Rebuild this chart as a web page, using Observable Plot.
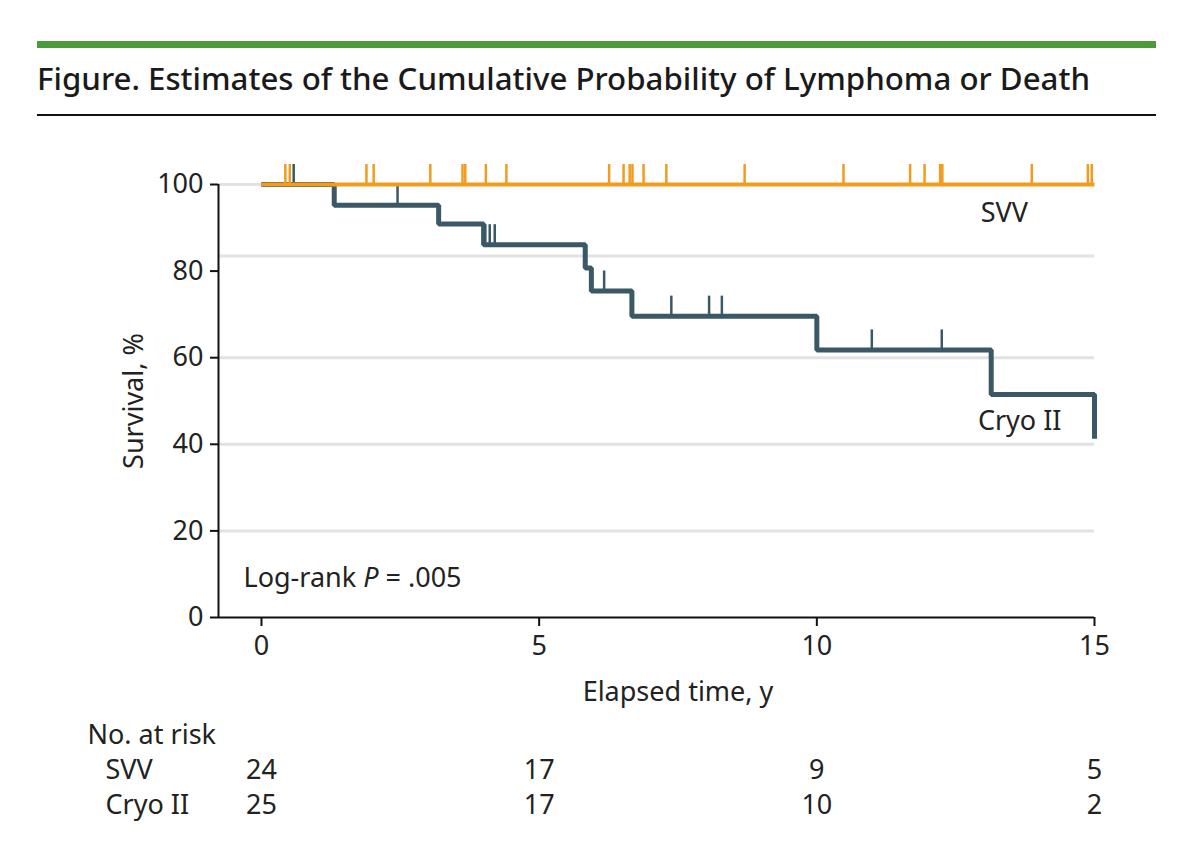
<!DOCTYPE html>
<html><head><meta charset="utf-8">
<script src="https://cdn.jsdelivr.net/npm/d3@7"></script>
<script src="https://cdn.jsdelivr.net/npm/@observablehq/plot@0.6"></script>
<style>
body{margin:0;background:#fff;width:1200px;height:861px;overflow:hidden;position:relative;font-family:"Noto Sans",sans-serif;}
#head{position:absolute;left:0;top:0;}
#chart{position:absolute;left:0;top:140px;}
#risk{position:absolute;left:0;top:715px;}
</style></head>
<body>
<svg id="head" width="1200" height="130">
  <rect x="37" y="41" width="1119" height="7" fill="#4b9b3a"></rect>
  <text id="title" x="37" y="90" font-family="Noto Sans" font-size="31" font-weight="500" fill="#1a1a1a">Figure. Estimates of the Cumulative Probability of Lymphoma or Death</text>
  <rect x="37" y="114" width="1119" height="2" fill="#111"></rect>
</svg>
<div id="chart"></div>
<div id="risk"></div>
<script>
// ---- data ----
const xTicks = [0, 5, 10, 15];
const yTicks = [0, 20, 40, 60, 80, 100];
const gridLevels = [20, 40, 60, 83.5, 100];
const cryoTimes = [0, 1.31, 3.19, 4.0, 5.83, 5.94, 6.67, 10.0, 13.14, 15];
const cryoSurv  = [100, 95.2, 90.9, 86.1, 80.7, 75.4, 69.6, 61.8, 51.5, 41.3];
const cryoCensorTimes = [0.58, 2.45, 4.03, 4.11, 4.2, 6.17, 7.38, 8.06, 8.29, 10.99, 12.25];
const svvTimes = [0, 15];
const svvSurv  = [100, 100];
const svvCensorTimes = [0.43, 0.51, 1.89, 2.02, 3.04, 3.62, 3.67, 4.04, 4.41, 6.26, 6.52, 6.63, 6.68, 6.88, 7.29, 8.70, 10.48, 11.68, 11.94, 12.22, 12.26, 13.87, 14.88, 14.95];
const groups = ["SVV", "Cryo II"];
const riskTimes = [0, 5, 10, 15];
const riskSVV  = [24, 17, 9, 5];
const riskCryo = [25, 17, 10, 2];
const riskHeader = "No. at risk";
const xLabel = "Elapsed time, y";
const yLabel = "Survival, %";
const logRank = "Log-rank P = .005";

// ---- config ----
const orange = "#F29B1D", slate = "#3A5866";
const xMin = -0.774;
const FS = 27;

// title fit
const tEl = document.getElementById("title");
tEl.setAttribute("textLength", 1053);
tEl.setAttribute("lengthAdjust", "spacingAndGlyphs");

const cryo = cryoTimes.map((t, i) => ({t, s: cryoSurv[i]}));
const svv = svvTimes.map((t, i) => ({t, s: svvSurv[i]}));
const stepAt = (series, t) => { let v = series[0].s; for (const d of series) if (d.t <= t) v = d.s; return v; };
const cryoCensor = cryoCensorTimes.map(t => ({t, s: stepAt(cryo, t)}));
const svvCensor = svvCensorTimes.map(t => ({t, s: stepAt(svv, t)}));

const curveLabels = [
  {name: groups[0], t: 12.95, s: 93.3},
  {name: groups[1], t: 12.9, s: 45.4}
];

const chart = Plot.plot({
  width: 1200, height: 580,
  marginLeft: 218, marginRight: 106, marginTop: 44, marginBottom: 103,
  x: {domain: [xMin, xTicks[xTicks.length - 1]]},
  y: {domain: [0, 100]},
  style: {fontFamily: "Noto Sans", fontSize: FS + "px", color: "#222", background: "white", overflow: "visible"},
  marks: [
    Plot.ruleY(gridLevels, {stroke: "#e2e2e2", strokeWidth: 3}),
    Plot.ruleX([xMin], {y1: 0, y2: 100, stroke: "#111", strokeWidth: 2}),
    Plot.ruleY([0], {stroke: "#111", strokeWidth: 2}),
    Plot.axisY({ticks: yTicks, tickSize: 8, tickPadding: 7, strokeWidth: 2, stroke: "#111", label: null, fontSize: FS, fill: "#222"}),
    Plot.axisX({ticks: xTicks, tickSize: 9, tickPadding: 9, strokeWidth: 2, stroke: "#111", label: null, fontSize: FS, fill: "#222"}),
    Plot.line(cryo, {x: "t", y: "s", curve: "step-after", stroke: slate, strokeWidth: 5, strokeLinejoin: "miter", strokeLinecap: "butt"}),
    Plot.ruleX(cryoCensor, {x: "t", y1: "s", y2: "s", insetBottom: 20, stroke: slate, strokeWidth: 2.5}),
    Plot.line(svv, {x: "t", y: "s", stroke: orange, strokeWidth: 4, strokeLinecap: "butt"}),
    Plot.ruleX(svvCensor, {x: "t", y1: "s", y2: "s", insetBottom: 20, stroke: orange, strokeWidth: 2.5}),
    Plot.text(curveLabels, {x: "t", y: "s", text: "name", textAnchor: "start", lineAnchor: "middle", fontSize: FS, fill: "#222"}),
    Plot.text([logRank], {frameAnchor: "bottom-left", dx: 25, dy: -39, textAnchor: "start", lineAnchor: "middle", fontSize: FS, fill: "#222"}),
    Plot.text([yLabel], {frameAnchor: "left", dx: -84, rotate: -90, textAnchor: "middle", lineAnchor: "middle", fontSize: FS, fill: "#222"}),
    Plot.text([{label: xLabel, t: (xTicks[0] + xTicks[xTicks.length - 1]) / 2}], {x: "t", frameAnchor: "bottom", dy: 75, text: "label", lineAnchor: "middle", fontSize: FS, fill: "#222"})
  ]
});
document.getElementById("chart").appendChild(chart);

// italic P in the log-rank note
d3.select(chart).selectAll("text").filter(function() { return this.textContent === logRank; }).each(function() {
  const el = d3.select(this);
  const parts = logRank.split("P");
  el.text(null);
  el.append("tspan").text(parts[0]);
  el.append("tspan").attr("font-style", "italic").text("P");
  el.append("tspan").text(parts[1]);
});

const riskData = riskTimes.flatMap((t, i) => [
  {t, group: groups[0], n: riskSVV[i]},
  {t, group: groups[1], n: riskCryo[i]}
]);
const risk = Plot.plot({
  width: 1200, height: 110,
  marginLeft: 218, marginRight: 106, marginTop: 0, marginBottom: 0,
  x: {domain: [xMin, xTicks[xTicks.length - 1]], axis: null},
  y: {type: "point", domain: [riskHeader, ...groups], range: [20, 90], padding: 0, axis: null},
  style: {fontFamily: "Noto Sans", fontSize: FS + "px", color: "#222", background: "white", overflow: "visible"},
  marks: [
    Plot.text(riskData, {x: "t", y: "group", text: d => String(d.n), lineAnchor: "middle", fontSize: FS, fill: "#222"}),
    Plot.text(groups, {y: d => d, frameAnchor: "left", dx: -113, textAnchor: "start", lineAnchor: "middle", fontSize: FS, fill: "#222"}),
    Plot.text([riskHeader], {y: d => d, frameAnchor: "left", dx: -131, textAnchor: "start", lineAnchor: "middle", fontSize: FS, fill: "#222"})
  ]
});
document.getElementById("risk").appendChild(risk);
</script>
</body></html>
